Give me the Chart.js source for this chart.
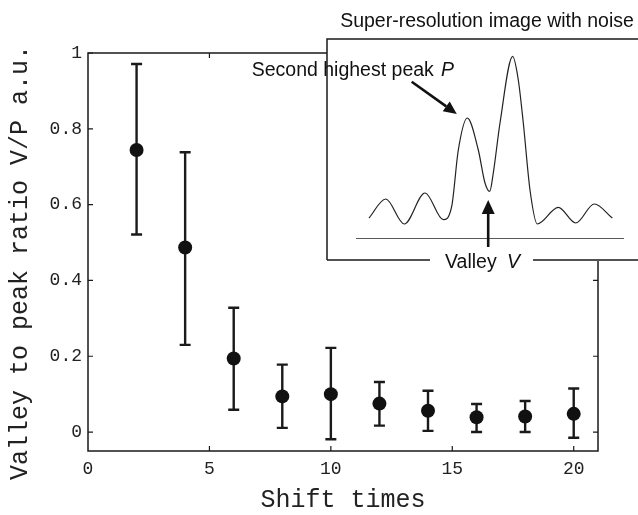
<!DOCTYPE html>
<html>
<head>
<meta charset="utf-8">
<script src="https://cdn.jsdelivr.net/npm/chart.js@4/dist/chart.umd.min.js"></script>
<style>
  html, body { margin: 0; padding: 0; background: #fff; }
  #wrap { position: relative; width: 638px; height: 515px; }
  #main { position: absolute; left: 0; top: 0; }
  #inset { position: absolute; left: 240px; top: 0; }
</style>
</head>
<body>
<div id="wrap">
  <canvas id="main" width="638" height="515"></canvas>
  <canvas id="inset" width="398" height="275"></canvas>
</div>
<script>
// ---- main chart data ----
const shiftTimes = [2, 4, 6, 8, 10, 12, 14, 16, 18, 20];
const ratioMean  = [0.744, 0.487, 0.194, 0.094, 0.100, 0.075, 0.056, 0.039, 0.041, 0.048];
const ratioUpper = [0.971, 0.738, 0.328, 0.178, 0.222, 0.132, 0.109, 0.074, 0.082, 0.115];
const ratioLower = [0.521, 0.230, 0.059, 0.011, -0.019, 0.017, 0.003, 0.000, 0.000, -0.015];
const xTickValues = [0, 5, 10, 15, 20];
const yTickValues = [0, 0.2, 0.4, 0.6, 0.8, 1];
const xTitle = 'Shift times';
const yTitle = 'Valley to peak ratio V/P a.u.';

// ---- inset curve data (arbitrary units) ----
const profilePos   = [13, 29.7, 48.3, 69, 87.3, 95.7, 102.3, 111.3, 122.3, 129, 133.7, 137.3, 144, 156.7, 162.3, 167.3, 174, 181.3, 202.3, 219.7, 238.3, 256.3];
const profileInten = [21, 40, 15, 46, 19.3, 32.6, 89, 121, 89, 56, 47.6, 66, 116, 182.6, 159, 116, 49, 15, 31.6, 16, 35, 21];
const baselinePos  = [0, 268];
const secondPeakIdx = 7;
const valleyIdx = 10;

const INK = '#1a1a1a';
const MONO = '"Liberation Mono", "Courier New", monospace';
const SANS = '"Liberation Sans", Arial, Helvetica, sans-serif';

const frameAndErrors = {
  id: 'frameAndErrors',
  beforeDatasetsDraw(chart) {
    const ctx = chart.ctx, xs = chart.scales.x, ys = chart.scales.y;
    ctx.save();
    ctx.strokeStyle = INK;
    ctx.lineWidth = 2.4;
    for (let i = 0; i < shiftTimes.length; i++) {
      const px = xs.getPixelForValue(shiftTimes[i]);
      const top = ys.getPixelForValue(ratioUpper[i]);
      const bot = ys.getPixelForValue(ratioLower[i]);
      ctx.beginPath();
      ctx.moveTo(px, top); ctx.lineTo(px, bot);
      ctx.moveTo(px - 5.5, top); ctx.lineTo(px + 5.5, top);
      ctx.moveTo(px - 5.5, bot); ctx.lineTo(px + 5.5, bot);
      ctx.stroke();
    }
    ctx.restore();
  },
  afterDraw(chart) {
    const ctx = chart.ctx, a = chart.chartArea, xs = chart.scales.x, ys = chart.scales.y;
    ctx.save();
    ctx.strokeStyle = INK;
    ctx.lineWidth = 1.5;
    ctx.strokeRect(a.left, a.top, a.right - a.left, a.bottom - a.top);
    ctx.lineWidth = 1.2;
    ctx.beginPath();
    yTickValues.forEach(v => {
      const py = ys.getPixelForValue(v);
      ctx.moveTo(a.left, py); ctx.lineTo(a.left + 5, py);
      ctx.moveTo(a.right, py); ctx.lineTo(a.right - 5, py);
    });
    xTickValues.forEach(v => {
      if (v === 0) return;
      const px = xs.getPixelForValue(v);
      ctx.moveTo(px, a.bottom); ctx.lineTo(px, a.bottom - 5);
      ctx.moveTo(px, a.top); ctx.lineTo(px, a.top + 5);
    });
    ctx.stroke();
    // y axis title
    ctx.fillStyle = '#222';
    ctx.font = '25px ' + MONO;
    ctx.textAlign = 'center';
    ctx.textBaseline = 'middle';
    ctx.translate(20, 262.5);
    ctx.rotate(-Math.PI / 2);
    ctx.fillText(yTitle, 0, 0);
    ctx.restore();
  }
};

new Chart(document.getElementById('main'), {
  type: 'scatter',
  data: {
    datasets: [{
      data: shiftTimes.map((x, i) => ({ x: x, y: ratioMean[i] })),
      pointRadius: 7,
      pointBackgroundColor: '#111',
      pointBorderColor: '#111',
      pointBorderWidth: 0,
      showLine: false
    }]
  },
  options: {
    responsive: false,
    animation: false,
    layout: { padding: { left: 0, right: 40, top: 53, bottom: 0 } },
    plugins: { legend: { display: false }, tooltip: { enabled: false } },
    scales: {
      x: {
        type: 'linear', min: 0, max: 21,
        afterBuildTicks: s => { s.ticks = xTickValues.map(v => ({ value: v })); },
        afterFit: s => { s.height = 64; },
        grid: { display: false, drawTicks: false },
        border: { display: false },
        ticks: { font: { family: MONO, size: 18 }, color: '#222', padding: 7, maxRotation: 0 },
        title: { display: true, text: xTitle, font: { family: MONO, size: 25 }, color: '#222', padding: { top: 0, bottom: 0 } }
      },
      y: {
        type: 'linear', min: -0.05, max: 1,
        afterBuildTicks: s => { s.ticks = yTickValues.map(v => ({ value: v })); },
        afterFit: s => { s.width = 88; },
        grid: { display: false, drawTicks: false },
        border: { display: false },
        ticks: { font: { family: MONO, size: 18 }, color: '#222', padding: 6, callback: v => String(v) },
        title: { display: false }
      }
    }
  },
  plugins: [frameAndErrors]
});

// ---- inset ----
function arrow(ctx, x0, y0, x1, y1, len, half) {
  const ang = Math.atan2(y1 - y0, x1 - x0);
  const bx = x1 - len * Math.cos(ang), by = y1 - len * Math.sin(ang);
  ctx.beginPath();
  ctx.moveTo(x0, y0); ctx.lineTo(bx, by);
  ctx.stroke();
  ctx.beginPath();
  ctx.moveTo(x1, y1);
  ctx.lineTo(bx + half * Math.sin(ang), by - half * Math.cos(ang));
  ctx.lineTo(bx - half * Math.sin(ang), by + half * Math.cos(ang));
  ctx.closePath();
  ctx.fill();
}

const insetDeco = {
  id: 'insetDeco',
  beforeDraw(chart) {
    const ctx = chart.ctx;
    ctx.save();
    ctx.fillStyle = '#fff';
    ctx.fillRect(87, 39, 311, 222);
    ctx.fillRect(190, 248, 103, 26);
    ctx.strokeStyle = INK;
    ctx.lineWidth = 1.5;
    ctx.beginPath();
    ctx.moveTo(87, 260); ctx.lineTo(87, 39); ctx.lineTo(398, 39);
    ctx.moveTo(87, 260); ctx.lineTo(190, 260);
    ctx.moveTo(293, 260); ctx.lineTo(398, 260);
    ctx.stroke();
    ctx.restore();
  },
  afterDraw(chart) {
    const ctx = chart.ctx, xs = chart.scales.x, ys = chart.scales.y;
    ctx.save();
    ctx.fillStyle = '#111';
    ctx.textBaseline = 'alphabetic';
    ctx.font = '19.5px ' + SANS;
    ctx.textAlign = 'center';
    ctx.fillText('Super-resolution image with noise', 247, 27);
    ctx.textAlign = 'left';
    ctx.fillText('Second highest peak', 11.7, 75.7);
    ctx.fillText('Valley', 205, 268);
    ctx.font = 'italic 19.5px ' + SANS;
    ctx.fillText('P', 201, 75.7);
    ctx.fillText('V', 267, 268);
    // arrows
    ctx.strokeStyle = '#111';
    ctx.lineWidth = 2.6;
    const pkx = xs.getPixelForValue(profilePos[secondPeakIdx]);
    const pky = ys.getPixelForValue(profileInten[secondPeakIdx]);
    arrow(ctx, 171.7, 81.7, pkx - 10.5, pky - 4, 13, 6);
    const vx = xs.getPixelForValue(profilePos[valleyIdx]) - 1.5;
    const vy = ys.getPixelForValue(profileInten[valleyIdx]);
    arrow(ctx, vx, 247, vx, vy + 8.5, 14, 6.5);
    ctx.restore();
  }
};

new Chart(document.getElementById('inset'), {
  type: 'scatter',
  data: {
    datasets: [{
      data: profilePos.map((x, i) => ({ x: x, y: profileInten[i] })),
      showLine: true,
      cubicInterpolationMode: 'monotone',
      borderColor: '#222',
      borderWidth: 1.2,
      pointRadius: 0,
      fill: false
    }, {
      data: baselinePos.map(x => ({ x: x, y: 0 })),
      showLine: true,
      borderColor: '#222',
      borderWidth: 1.3,
      pointRadius: 0,
      fill: false
    }]
  },
  options: {
    responsive: false,
    animation: false,
    layout: { padding: { left: 116, right: 14, top: 39, bottom: 36 } },
    plugins: { legend: { display: false }, tooltip: { enabled: false } },
    scales: {
      x: { type: 'linear', min: 0, max: 268, display: false },
      y: { type: 'linear', min: 0, max: 200, display: false }
    }
  },
  plugins: [insetDeco]
});
</script>
</body>
</html>
